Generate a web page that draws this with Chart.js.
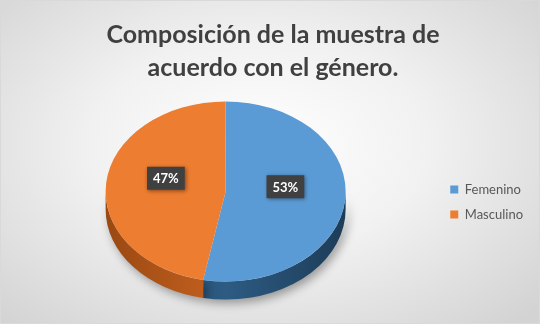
<!DOCTYPE html>
<html>
<head>
<meta charset="utf-8">
<script src="https://cdn.jsdelivr.net/npm/chart.js@4.4.0/dist/chart.umd.min.js"></script>
<style>
    html, body { margin: 0; padding: 0; }
    body { width: 540px; height: 324px; overflow: hidden; }
    #wrap {
        box-sizing: border-box;
        width: 540px;
        height: 324px;
        border: 1px solid #d9d9d9;
        background: radial-gradient(ellipse 70% 75% at 48% 45%, #ffffff 0%, #f1f1f1 45%, #d3d3d3 100%);
    }
    canvas { display: block; }
</style>
</head>
<body>
<div id="wrap"><canvas id="genderChart" width="538" height="322"></canvas></div>
<script>
// Chart data
const categories = ['Femenino', 'Masculino'];
const values = [53, 47];
const chartTitle = ['Composición de la muestra de', 'acuerdo con el género.'];

// Colours: top face and side wall (dark -> light)
const sliceColors = ['#5b9bd5', '#ed7d31'];
const sideColors = [['#1d3c58', '#2d5b83'], ['#9a4813', '#c5621f']];

// 3D look
const TILT = 0.75;     // vertical squash of the pie top
const DEPTH = 18;      // thickness of the side wall in px
const LIFT = 29;       // vertical shift of the pie
const LABEL_DY = -9;   // labels sit a bit higher than the centroid

/**
 * Map a point from the flat pie to the tilted one
 */
function tiltY(center, y) {
    return center.y + (y - center.y) * TILT + LIFT;
}

/**
 * Draws the pie as a tilted disc with a side wall
 */
const pie3d = {
    id: 'pie3d',
    beforeDatasetsDraw(chart) {
        const ctx = chart.ctx;
        const arcs = chart.getDatasetMeta(0).data;
        if (!arcs.length) return;
        const c = arcs[0];
        const dy = DEPTH / TILT;

        ctx.save();
        ctx.translate(0, c.y + LIFT);
        ctx.scale(1, TILT);
        ctx.translate(0, -c.y);

        // side walls, only the front half is visible
        ctx.shadowColor = 'rgba(0, 0, 0, 0.35)';
        ctx.shadowBlur = 10;
        ctx.shadowOffsetX = 3;
        ctx.shadowOffsetY = 4;
        arcs.forEach((a, i) => {
            [[0, Math.PI], [2 * Math.PI, 3 * Math.PI]].forEach(([lo, hi]) => {
                const a0 = Math.max(a.startAngle, lo);
                const a1 = Math.min(a.endAngle, hi);
                if (a1 <= a0) return;
                const grad = ctx.createLinearGradient(a.x - a.outerRadius, 0, a.x + a.outerRadius, 0);
                grad.addColorStop(0, sideColors[i][0]);
                grad.addColorStop(0.5, sideColors[i][1]);
                grad.addColorStop(1, sideColors[i][0]);
                ctx.beginPath();
                ctx.arc(a.x, a.y, a.outerRadius, a0, a1);
                ctx.arc(a.x, a.y + dy, a.outerRadius, a1, a0, true);
                ctx.closePath();
                ctx.fillStyle = grad;
                ctx.fill();
            });
        });
        ctx.shadowColor = 'transparent';

        // top faces
        arcs.forEach(a => a.draw(ctx));
        ctx.restore();
        return false;
    },
    afterDraw(chart) {
        const ctx = chart.ctx;
        const arcs = chart.getDatasetMeta(0).data;
        if (!arcs.length) return;
        const c = arcs[0];
        const total = values.reduce((s, v) => s + v, 0);

        ctx.save();
        ctx.font = 'bold 13px Lato';
        ctx.textAlign = 'center';
        ctx.textBaseline = 'middle';
        arcs.forEach((a, i) => {
            const p = a.tooltipPosition();
            const x = p.x;
            const y = tiltY(c, p.y) + LABEL_DY;
            const txt = Math.round(values[i] / total * 100) + '%';
            const w = ctx.measureText(txt).width + 12;
            const h = 23;
            ctx.shadowColor = 'rgba(0, 0, 0, 0.45)';
            ctx.shadowBlur = 4;
            ctx.shadowOffsetX = 1;
            ctx.shadowOffsetY = 1;
            ctx.fillStyle = '#404040';
            ctx.fillRect(x - w / 2, y - h / 2, w, h);
            ctx.shadowColor = 'transparent';
            ctx.fillStyle = '#ffffff';
            ctx.fillText(txt, x, y + 1);
        });
        ctx.restore();
    }
};

new Chart(document.getElementById('genderChart'), {
    type: 'pie',
    data: {
        labels: categories,
        datasets: [{
            data: values,
            backgroundColor: sliceColors,
            borderWidth: 0,
            radius: 120,
            clip: false
        }]
    },
    options: {
        responsive: false,
        devicePixelRatio: 1,
        animation: false,
        layout: {
            padding: { left: 12, right: 6, top: 0, bottom: 90 }
        },
        plugins: {
            title: {
                display: true,
                text: chartTitle,
                color: '#404040',
                font: { family: 'Lato', size: 25, weight: 'bold', lineHeight: 1.32 },
                padding: { top: 17, bottom: 8 }
            },
            legend: {
                position: 'right',
                align: 'end',
                labels: {
                    boxWidth: 8,
                    boxHeight: 8,
                    padding: 12,
                    color: '#595959',
                    font: { family: 'Lato', size: 13 }
                }
            },
            tooltip: { enabled: false }
        }
    },
    plugins: [pie3d]
});
</script>
</body>
</html>
